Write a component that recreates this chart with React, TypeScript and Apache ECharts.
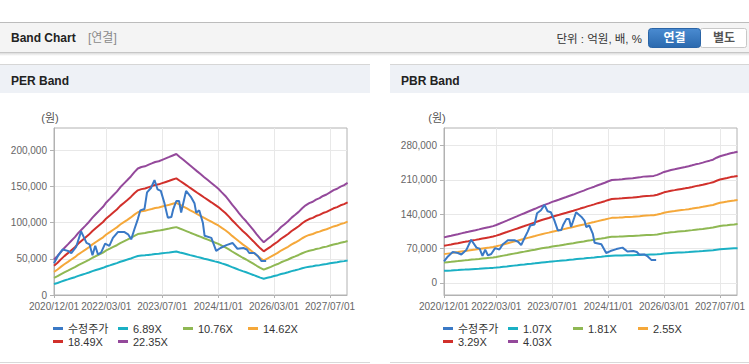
import React, { useEffect, useRef } from 'react';
import * as echarts from 'echarts';

const FONT = '"Liberation Sans", Arial, "Noto Sans CJK KR", sans-serif';

// ---- axis / tick data ----
const xTickLabels = ['2020/12/01', '2022/03/01', '2023/07/01', '2024/11/01', '2026/03/01', '2027/07/01'];
const xStart = '2020/12/01';
const xEnd = '2027/11/26';
const perYTicks = [0, 50000, 100000, 150000, 200000];
const pbrYTicks = [0, 70000, 140000, 210000, 280000];
const perYRange = [0, 231000];
const pbrYRange = [-24500, 315500];

// ---- series names ----
const priceName = '수정주가';
const perMultiples = [6.89, 10.76, 14.62, 18.49, 22.35];
const pbrMultiples = [1.07, 1.81, 2.55, 3.29, 4.03];

// top band (22.35X) read monthly from 2020/12 to 2027/12, in thousand won
const perTopBand = [
  49, 54, 60, 65, 70, 75, 80, 86, 91, 96, 101, 107, 112, 117, 122, 128, 133, 138, 143, 149, 154, 159, 164, 170, 175,
  177, 178, 180, 182, 184, 185, 187, 189, 191, 193, 195,
  191, 187, 183, 179, 175, 171, 167, 163, 159, 155, 151, 147, 142, 137, 131, 125, 119, 113, 107, 102, 96, 90, 84, 78, 73,
  77, 81, 85, 89, 94, 98, 102, 107, 111, 115, 120, 124, 127, 129, 132, 134, 137, 139, 142, 145, 147, 150, 152, 155,
];
// top band (4.03X) read monthly from 2020/12 to 2027/12, in thousand won
const pbrTopBand = [
  92.8, 94.4, 96, 97.7, 99.3, 101, 102.6, 104.2, 105.9, 107.5, 109.1, 110.8, 112.4, 114, 115.7,
  118, 121, 124, 127, 130, 133, 136, 139, 142, 145, 148, 151, 154, 157,
  159.5, 162, 165, 167.5, 170, 172.5, 175, 177.5, 180, 183, 185.5, 188, 191, 193.5, 196, 199, 201.5, 204, 207, 209.5,
  210, 210.5, 211, 212, 212.5, 213, 214, 215, 216.5, 217, 217.5, 218,
  220, 223, 226, 228, 230, 231.5, 233, 234.5, 236, 237.5, 239.5, 241.5, 243, 245, 247, 249, 251, 255, 258, 260, 262, 264, 265.5, 267,
];

// adjusted share price
const priceDates = [
  '2020-12-01', '2021-01-04', '2021-02-15', '2021-04-01', '2021-05-01', '2021-06-13', '2021-07-25', '2021-09-10',
  '2021-10-07', '2021-11-01', '2021-11-25', '2021-12-19', '2022-01-16', '2022-02-19', '2022-03-28', '2022-04-28',
  '2022-06-10', '2022-08-07', '2022-09-07', '2022-10-04', '2022-11-01', '2022-12-01', '2022-12-22', '2023-01-28',
  '2023-02-19', '2023-03-25', '2023-04-25', '2023-05-22', '2023-06-19', '2023-07-19', '2023-08-19', '2023-09-19',
  '2023-10-04', '2023-11-01', '2023-11-25', '2023-12-13', '2024-01-25', '2024-03-10', '2024-04-07', '2024-04-22',
  '2024-05-19', '2024-06-19', '2024-07-04', '2024-09-01', '2024-10-13', '2024-11-19', '2025-01-10', '2025-03-04',
  '2025-04-16', '2025-06-07', '2025-07-07', '2025-07-28', '2025-09-10', '2025-10-10', '2025-11-10', '2025-12-22',
];
const priceValues = [
  44000, 54000, 63000, 61000, 58000, 67000, 88000, 72000,
  70000, 55000, 68000, 56000, 59000, 71000, 68000, 79000,
  87000, 87000, 84000, 77000, 91000, 105000, 117000, 119000,
  142000, 148000, 159000, 146000, 144000, 128000, 107000, 108000,
  118000, 130000, 130000, 114000, 144000, 135000, 127000, 114000,
  117000, 100000, 82000, 79000, 61000, 65000, 69000, 72000,
  64000, 65000, 63000, 58000, 58000, 54000, 47000, 47000,
];

// ---- styles ----
const priceColor = '#3a79c6';
const bandColors = ['#1bb0c4', '#8fb853', '#f5a83a', '#d1302b', '#94499b'];
const axisGray = '#b2b2b2';
const splitGray = '#e8e8e8';

const ts = (s: string) => {
  const [y, m, d] = s.split(/[-/]/).map(Number);
  return Date.UTC(y, m - 1, d);
};
const pad = (n: number) => (n < 10 ? '0' + n : '' + n);
const fmtDate = (v: number) => {
  const d = new Date(v);
  return `${d.getUTCFullYear()}/${pad(d.getUTCMonth() + 1)}/${pad(d.getUTCDate())}`;
};
const bandDates = perTopBand.map((_, i) => Date.UTC(2020, 11 + i, 1));

function buildOption() {
  const grids = [
    { left: 54, top: 128, width: 293, height: 167 },
    { left: 444, top: 128, width: 293, height: 167 },
  ];
  const xTickVals = xTickLabels.map(ts);
  const charts = [
    { mults: perMultiples, top: perTopBand, yTicks: perYTicks, yRange: perYRange, legendLeft: 53 },
    { mults: pbrMultiples, top: pbrTopBand, yTicks: pbrYTicks, yRange: pbrYRange, legendLeft: 443 },
  ];

  const series: any[] = [];
  const legends: any[] = [];
  charts.forEach((c, ci) => {
    const topMult = c.mults[c.mults.length - 1];
    c.mults.forEach((m, j) => {
      series.push({
        type: 'line',
        name: m.toFixed(2) + 'X',
        xAxisIndex: ci,
        yAxisIndex: ci,
        showSymbol: false,
        data: bandDates.map((t, k) => [t, Math.round((c.top[k] * 1000 * m) / topMult)]),
        lineStyle: { width: 2, color: bandColors[j] },
        itemStyle: { color: bandColors[j] },
        z: 2,
      });
    });
    series.push({
      type: 'line',
      name: priceName,
      xAxisIndex: ci,
      yAxisIndex: ci,
      showSymbol: false,
      data: priceDates.map((d, k) => [ts(d), priceValues[k]]),
      lineStyle: { width: 2, color: priceColor },
      itemStyle: { color: priceColor },
      z: 3,
    });
    const names = [priceName, ...c.mults.map((m) => m.toFixed(2) + 'X')];
    names.forEach((n, idx) => {
      const row = idx < 4 ? 0 : 1;
      const col = idx < 4 ? idx : idx - 4;
      legends.push({
        data: [n],
        left: c.legendLeft + col * 65,
        top: row === 0 ? 323 : 336,
        padding: 0,
        itemGap: 0,
        itemWidth: 10,
        itemHeight: 3,
        icon: 'rect',
        selectedMode: false,
        textStyle: { fontSize: 11, color: '#333', fontFamily: FONT },
      });
    });
  });

  const txt = (text: string, x: number, y: number, o: any = {}) => ({
    type: 'text',
    z: 10,
    style: {
      text,
      x,
      y,
      fill: o.fill || '#222',
      fontSize: o.fontSize || 12,
      fontWeight: o.fontWeight || 'normal',
      fontFamily: FONT,
      align: o.align || 'left',
      verticalAlign: 'middle',
    },
  });
  const rect = (x: number, y: number, w: number, h: number, fill: any, extra: any = {}) => ({
    type: 'rect',
    z: extra.z ?? -5,
    shape: { x, y, width: w, height: h, r: extra.r || 0 },
    style: { fill, stroke: extra.stroke || null, lineWidth: extra.stroke ? 1 : 0 },
  });

  const graphic = [
    rect(0, 22, 749, 1, '#bcbcbc'),
    rect(0, 23, 749, 29, '#f4f4f4'),
    rect(0, 52, 749, 1, '#c6c6c6'),
    rect(0, 53, 749, 3, new echarts.graphic.LinearGradient(0, 0, 0, 1, [
      { offset: 0, color: '#dcdcdc' },
      { offset: 1, color: '#ffffff' },
    ])),
    txt('Band Chart', 11, 38, { fontWeight: 'bold', fontSize: 12 }),
    txt('[연결]', 88, 38, { fill: '#8a8a8a', fontSize: 12 }),
    txt('단위 : 억원, 배, %', 642, 39, { fill: '#333', fontSize: 11.5, align: 'right' }),
    rect(648.5, 28.5, 52, 19, new echarts.graphic.LinearGradient(0, 0, 0, 1, [
      { offset: 0, color: '#4a8bd1' },
      { offset: 1, color: '#2a69ae' },
    ]), { r: 3, z: 5, stroke: '#2a64a6' }),
    txt('연결', 674.5, 38, { fill: '#ffffff', fontWeight: 'bold', fontSize: 12, align: 'center' }),
    rect(700.5, 28.5, 46, 19, '#ffffff', { z: 4, stroke: '#c8c8c8', r: 2 }),
    txt('별도', 724, 38, { fill: '#555', fontWeight: 'bold', fontSize: 12, align: 'center' }),
    // panels
    rect(0, 64, 370, 1, '#d6d6d6'),
    rect(0, 65, 370, 28, '#eef1f6'),
    rect(0, 362, 370, 1, '#d9d9d9'),
    txt('PER Band', 11, 80.5, { fontWeight: 'bold', fontSize: 12 }),
    rect(390, 64, 359, 1, '#d6d6d6'),
    rect(390, 65, 359, 28, '#eef1f6'),
    rect(390, 362, 359, 1, '#d9d9d9'),
    txt('PBR Band', 401, 80.5, { fontWeight: 'bold', fontSize: 12 }),
    txt('(원)', 50, 118, { fill: '#555', fontSize: 11, align: 'center' }),
    txt('(원)', 437, 118, { fill: '#555', fontSize: 11, align: 'center' }),
  ];

  return {
    animation: false,
    backgroundColor: '#ffffff',
    textStyle: { fontFamily: FONT },
    graphic,
    legend: legends,
    grid: grids.map((g) => ({
      ...g,
      show: true,
      borderColor: axisGray,
      borderWidth: 1,
      backgroundColor: 'transparent',
      containLabel: false,
      outerBoundsMode: 'none',
    })),
    xAxis: grids.map((_, i) => ({
      type: 'value',
      gridIndex: i,
      min: ts(xStart),
      max: ts(xEnd),
      axisLine: { show: true, onZero: false, lineStyle: { color: axisGray } },
      axisTick: { show: true, length: 3, customValues: xTickVals, lineStyle: { color: axisGray } },
      axisLabel: {
        customValues: xTickVals,
        formatter: (v: number) => fmtDate(v),
        color: '#666',
        fontSize: 10,
        fontFamily: FONT,
        margin: 6,
        hideOverlap: false,
      },
      splitLine: { show: true, lineStyle: { color: splitGray } },
    })),
    yAxis: charts.map((c, i) => ({
      type: 'value',
      gridIndex: i,
      min: c.yRange[0],
      max: c.yRange[1],
      axisLine: { show: true, onZero: false, lineStyle: { color: axisGray } },
      axisTick: { show: true, length: 4, customValues: c.yTicks, lineStyle: { color: axisGray } },
      axisLabel: { customValues: c.yTicks, color: '#666', fontSize: 10, fontFamily: FONT, margin: 7 },
      splitLine: { show: true, lineStyle: { color: splitGray } },
    })),
    series,
  };
}

export default function App() {
  const ref = useRef<HTMLDivElement>(null);
  useEffect(() => {
    if (!ref.current) return;
    const chart = echarts.init(ref.current, undefined, { renderer: 'svg' });
    chart.setOption(buildOption() as any);
    return () => chart.dispose();
  }, []);
  return (
    <div style={{ position: 'absolute', left: 0, top: 0, width: 749, height: 364, background: '#fff' }}>
      <div ref={ref} style={{ width: 749, height: 364 }} />
    </div>
  );
}
